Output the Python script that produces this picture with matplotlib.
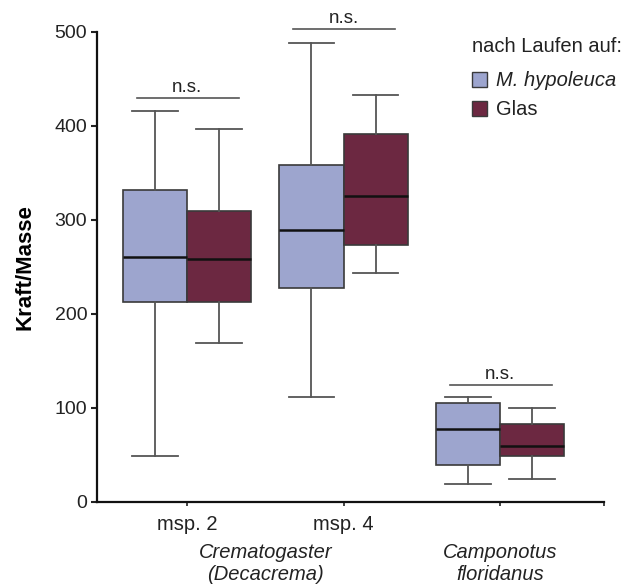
import matplotlib
matplotlib.use("Agg")
import matplotlib.pyplot as plt
from matplotlib.patches import Patch

plt.rcParams['font.family'] = ['Liberation Sans', 'DejaVu Sans']

groups = ["msp. 2", "msp. 4", "Camponotus"]
# stats: whislo, q1, med, q3, whishi
blue_stats = [
    (49, 213, 261, 332, 416),
    (112, 228, 289, 358, 488),
    (19, 39, 78, 105, 112),
]
red_stats = [
    (169, 213, 259, 310, 397),
    (244, 273, 326, 391, 433),
    (24, 49, 60, 83, 100),
]
ns_levels = [430, 503, 125]
tick_labels = ["msp. 2", "msp. 4", ""]
blue_color = "#9DA5CE"
red_color = "#6C2841"

fig = plt.figure(figsize=(6.23, 5.87), dpi=100)
ax = fig.add_axes([97/623, 1-502/587, (604-97)/623, (502-32)/587])

pos = [1, 2, 3]
bw = 0.41
off = 0.205

def mk(s):
    return dict(whislo=s[0], q1=s[1], med=s[2], q3=s[3], whishi=s[4], fliers=[])

for stats, color, sign in [(blue_stats, blue_color, -1), (red_stats, red_color, 1)]:
    ax.bxp([mk(s) for s in stats], positions=[p + sign*off for p in pos],
           widths=bw, patch_artist=True, showfliers=False, capwidths=0.29,
           boxprops=dict(facecolor=color, edgecolor="#3a3a3a", linewidth=1.2),
           medianprops=dict(color="#111111", linewidth=1.8),
           whiskerprops=dict(color="#555555", linewidth=1.3),
           capprops=dict(color="#555555", linewidth=1.3))

for p, lvl in zip(pos, ns_levels):
    ax.plot([p-0.32, p+0.33], [lvl, lvl], color="#555555", lw=1.2, clip_on=False)
    ax.text(p, lvl + 2, "n.s.", ha="center", va="bottom", fontsize=13.5, color="#222222")

ax.set_xlim(1 - 90/156.5, 3 + 104/156.5)
ax.set_ylim(0, 500)
ax.set_yticks([0, 100, 200, 300, 400, 500])
ax.set_xticks([1, 2, 3, 3 + 104/156.5])
ax.set_xticklabels(tick_labels + [""])
ax.tick_params(axis='y', labelsize=14, length=4, width=1.5, colors="#222222", pad=3)
ax.tick_params(axis='x', labelsize=14.5, length=3, width=1.2, colors="#222222", pad=6)
for s in ["top", "right"]:
    ax.spines[s].set_visible(False)
for s in ["left", "bottom"]:
    ax.spines[s].set_linewidth(1.6)
    ax.spines[s].set_color("#111111")
ax.set_ylabel("Kraft/Masse", fontsize=16, fontweight="bold", labelpad=14)

ax.text(1.5, -0.088, "Crematogaster\n(Decacrema)", transform=ax.get_xaxis_transform(),
        ha="center", va="top", fontsize=14.5, style="italic", color="#222222", linespacing=1.2)
ax.text(3, -0.088, "Camponotus\nfloridanus", transform=ax.get_xaxis_transform(),
        ha="center", va="top", fontsize=14.5, style="italic", color="#222222", linespacing=1.2)

handles = [Patch(facecolor=blue_color, edgecolor="#3a3a3a"),
           Patch(facecolor=red_color, edgecolor="#3a3a3a")]
leg = fig.legend(handles, ["M. hypoleuca", "Glas"], title="nach Laufen auf:",
                 loc="upper left", bbox_to_anchor=(458/623, 1-23/587), frameon=False,
                 fontsize=14.5, title_fontsize=14.5, handlelength=0.75, handleheight=0.75,
                 handletextpad=0.45, labelspacing=0.5, alignment="left", borderpad=0.2)
leg._legend_box.sep = 11
leg.get_texts()[0].set_style("italic")
for t in leg.get_texts():
    t.set_color("#222222")
leg.get_title().set_color("#222222")

fig.savefig("out.png", dpi=100)
